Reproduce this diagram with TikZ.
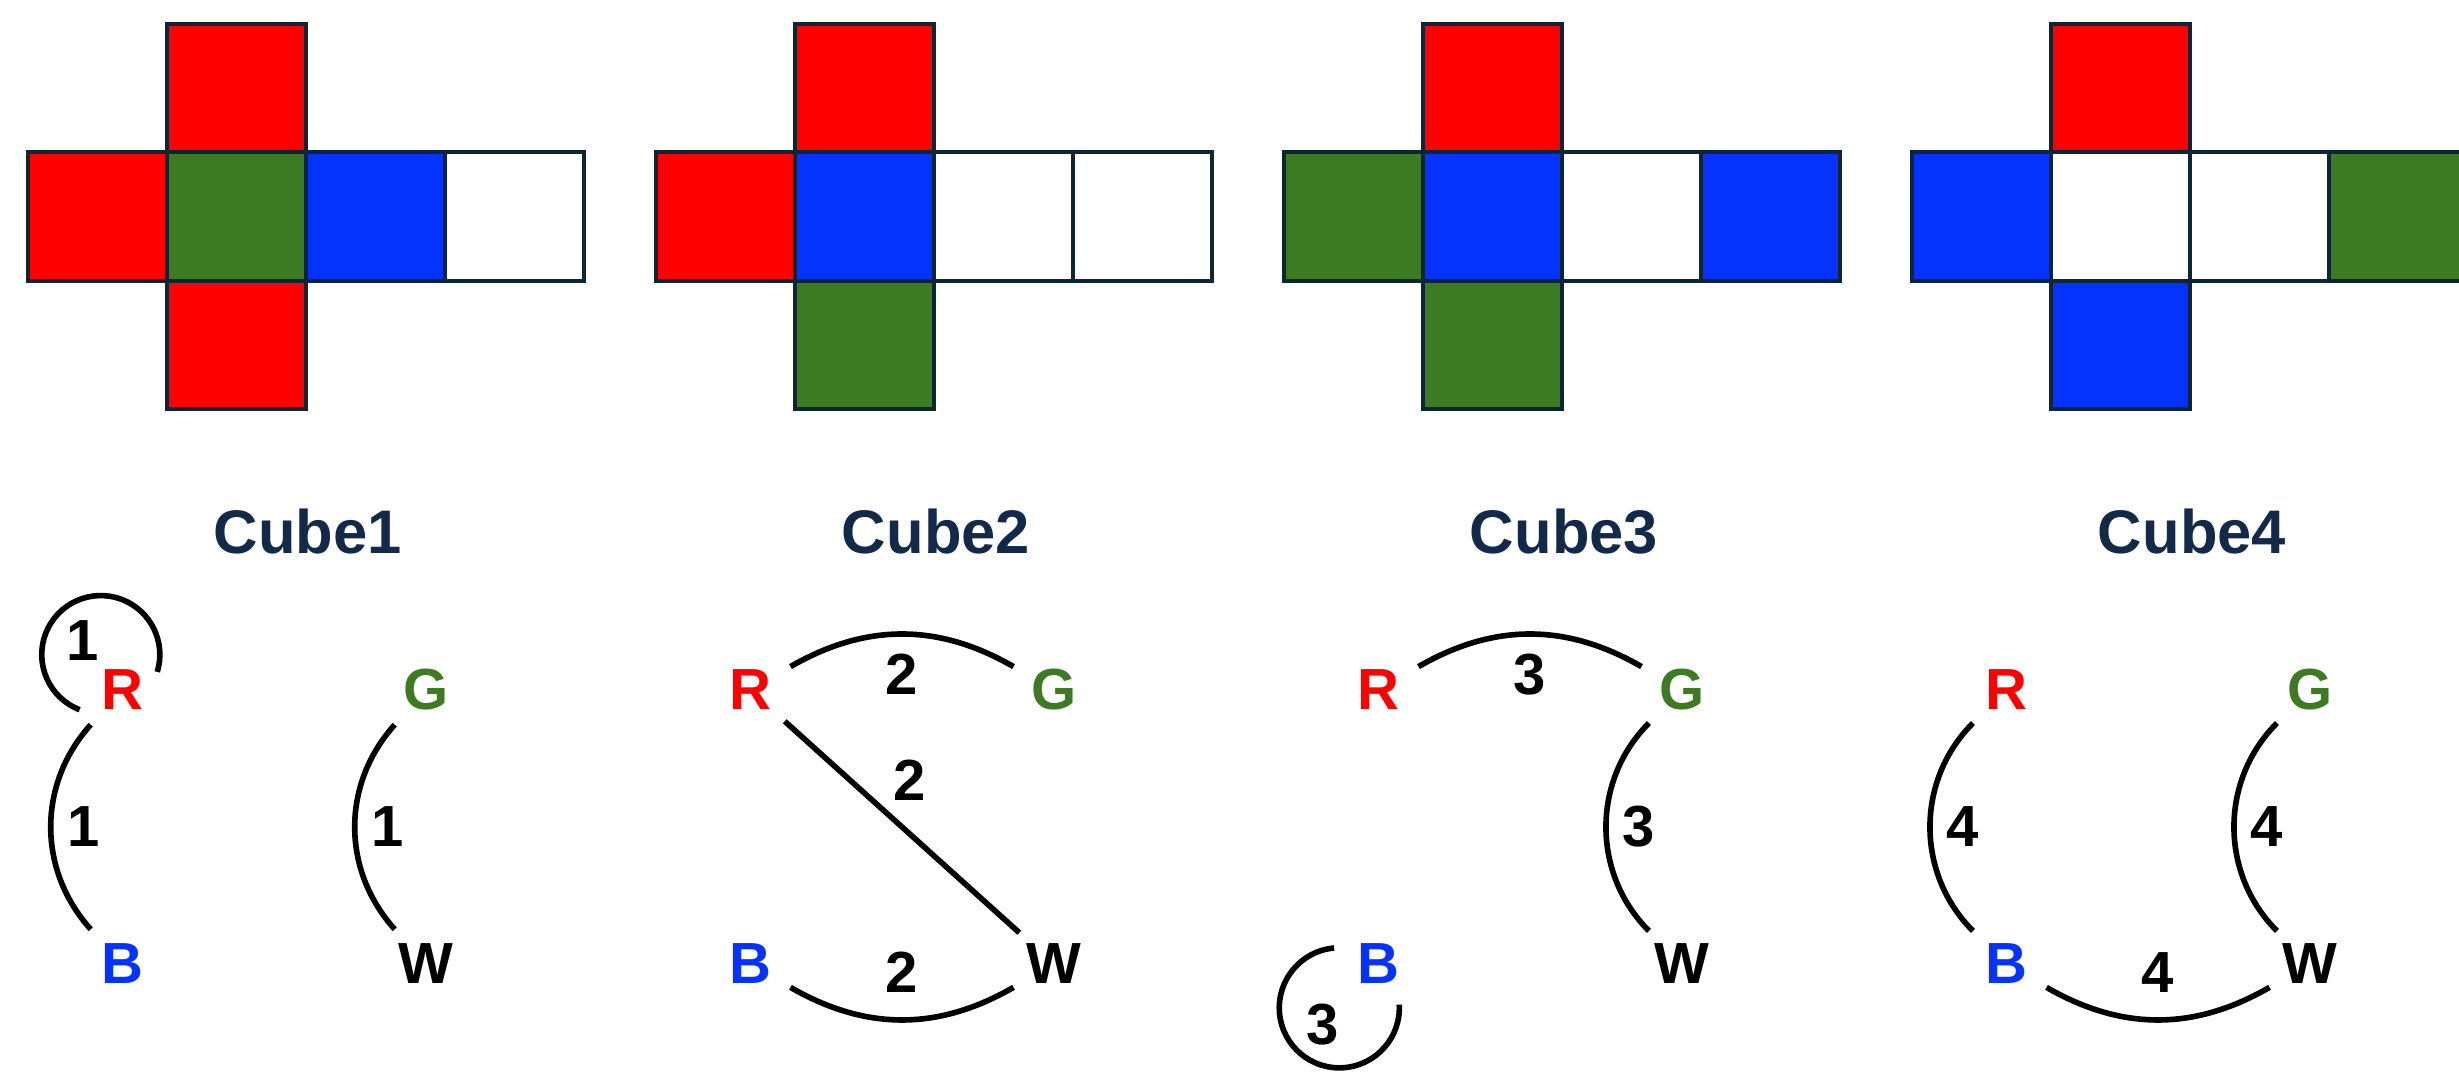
\documentclass[tikz,border=0pt]{standalone}
\usepackage{fontspec}
\setmainfont{Liberation Sans}
\usetikzlibrary{positioning}
\definecolor{facered}{HTML}{FF0000}
\definecolor{facegreen}{HTML}{3D7B23}
\definecolor{faceblue}{HTML}{0433FF}
\definecolor{faceline}{HTML}{0D2636}
\definecolor{titlenavy}{HTML}{12294A}
\tikzset{
  face/.style={draw=faceline, line width=1.4pt},
  vert/.style={circle, minimum size=0.92cm, inner sep=0pt, font=\fontsize{16.5}{16.5}\selectfont\bfseries},
  wt/.style={inner sep=4pt, font=\fontsize{16.5}{16.5}\selectfont\bfseries},
  link/.style={line width=1.6pt},
  cubename/.style={text=titlenavy, font=\fontsize{17.5}{17.5}\selectfont\bfseries}
}
\begin{document}
\begin{tikzpicture}[x=0.01cm, y=0.01cm]
  \useasboundingbox (0,0) rectangle (2459,-1077);
  % nets, titles and vertices
  \foreach \i/\ct/\cl/\cc/\cr/\cf/\cb in {
      1/facered/facered/facegreen/faceblue/white/facered,
      2/facered/facered/faceblue/white/white/facegreen,
      3/facered/facegreen/faceblue/white/faceblue/facegreen,
      4/facered/faceblue/white/white/facegreen/faceblue} {
    \pgfmathsetmacro{\xo}{28+628*(\i-1)}
    \filldraw[face, fill=\ct] (\xo+139,-24) rectangle ++(139,-128);
    \filldraw[face, fill=\cl] (\xo,-152) rectangle ++(139,-129);
    \filldraw[face, fill=\cc] (\xo+139,-152) rectangle ++(139,-129);
    \filldraw[face, fill=\cr] (\xo+278,-152) rectangle ++(139,-129);
    \filldraw[face, fill=\cf] (\xo+417,-152) rectangle ++(139,-129);
    \filldraw[face, fill=\cb] (\xo+139,-281) rectangle ++(139,-128);
    \node[cubename] (title\i) at (\xo+280,-532) {Cube\i};
    \node[vert, text=facered] (R\i) at (\xo+94,-690) {R};
    \node[vert, text=facegreen] (G\i) at (\xo+398,-690) {G};
    \node[vert, text=faceblue] (B\i) at (\xo+94,-964) {B};
    \node[vert] (W\i) at (\xo+398,-964) {W};
  }

  % cube 1
  \draw[link] (R1.205) arc[start angle=249, end angle=-17, radius=0.59cm];
  \node[wt] (loop1) at ([shift={(-39,49)}]R1.center) {1};
  \draw[link] (R1) to[bend right=42] node[wt, right] {1} (B1);
  \draw[link] (G1) to[bend right=42] node[wt, right] {1} (W1);

  % cube 2
  \draw[link] (R2) to[bend left=30] node[wt, below=1pt] {2} (G2);
  \draw[link] (R2) -- node[wt, pos=0.42, above right, inner sep=2pt] {2} (W2);
  \draw[link] (B2) to[bend right=30] node[wt, above=3pt] {2} (W2);

  % cube 3
  \draw[link] (R3) to[bend left=30] node[wt, below=1pt] {3} (G3);
  \draw[link] (G3) to[bend right=45] node[wt, right] {3} (W3);
  \draw[link] (B3.160) arc[start angle=95, end angle=363, radius=0.6cm];
  \node[wt] (loop3) at ([shift={(-55,-61)}]B3.center) {3};

  % cube 4
  \draw[link] (R4) to[bend right=45] node[wt, right] {4} (B4);
  \draw[link] (G4) to[bend right=45] node[wt, right] {4} (W4);
  \draw[link] (B4) to[bend right=30] node[wt, above=3pt] {4} (W4);
\end{tikzpicture}
\end{document}
